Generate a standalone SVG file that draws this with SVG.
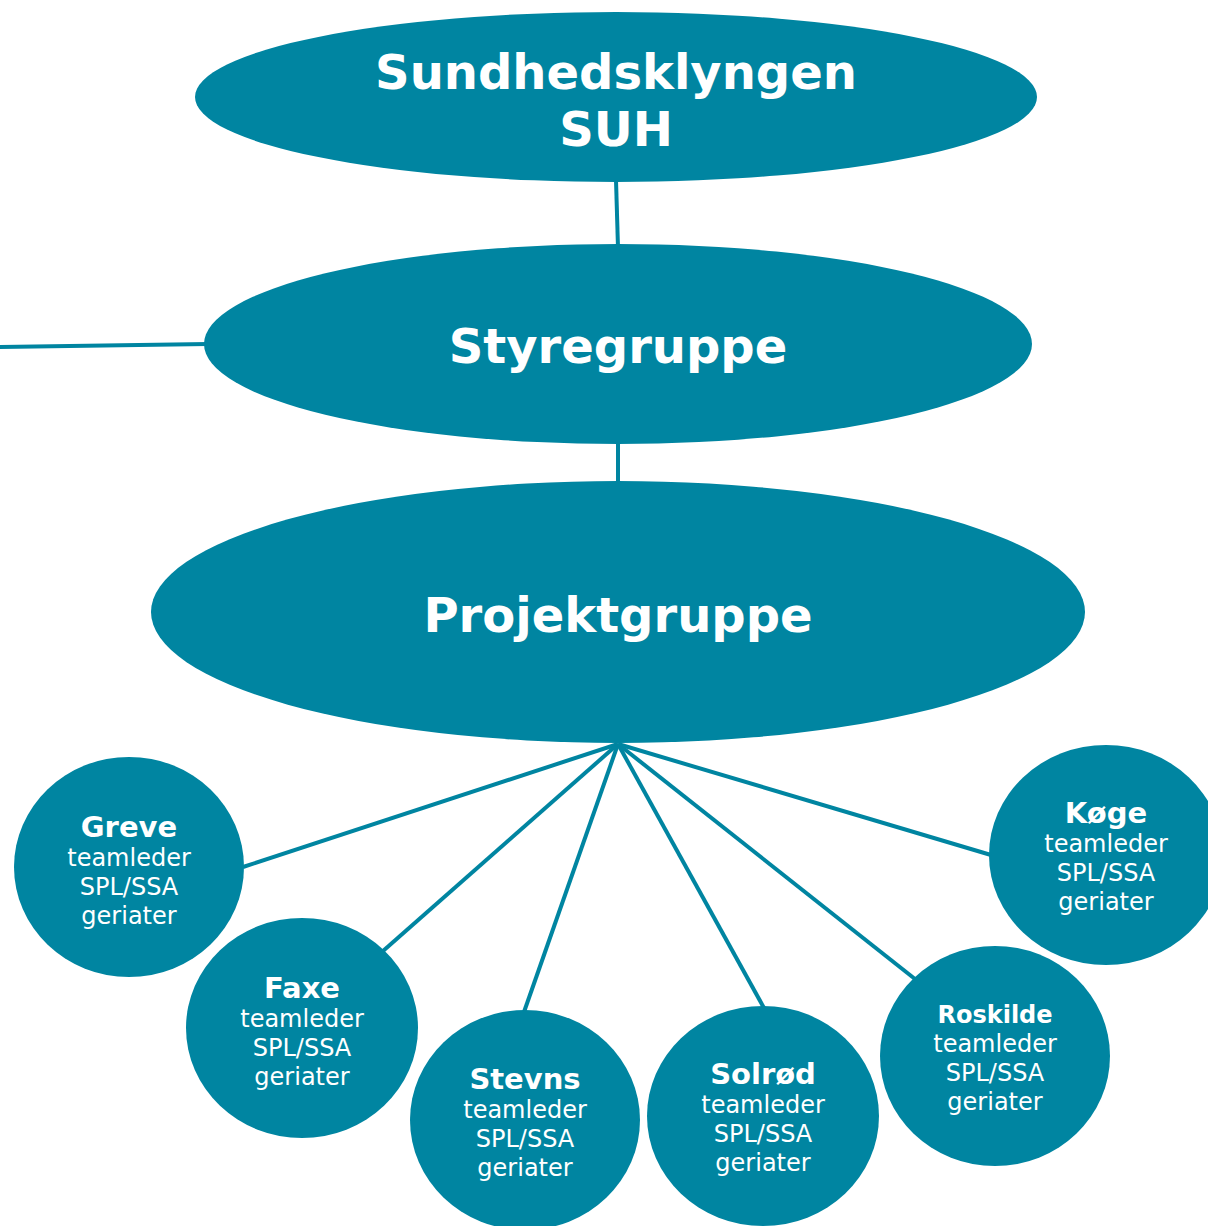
<svg xmlns="http://www.w3.org/2000/svg" width="1208" height="1226" viewBox="0 0 1208 1226">
<style>
.n{fill:#0085A1}
.c{stroke:#0085A1;stroke-width:4;fill:none}
text{fill:#fff;font-family:"DejaVu Sans",Verdana,sans-serif;text-anchor:middle}
.big{font-size:48px;font-weight:bold}
.b{font-size:29px;font-weight:bold}
.b2{font-size:24px;font-weight:bold}
.r{font-size:24px}
</style>
<rect width="1208" height="1226" fill="#fff"/>
<g id="connectors">
<line class="c" x1="616" y1="180" x2="618" y2="248"/>
<line class="c" x1="618" y1="440" x2="618" y2="485"/>
<line class="c" x1="0" y1="347" x2="208" y2="344"/>
<line class="c" x1="618" y1="744" x2="243" y2="867"/>
<line class="c" x1="618" y1="744" x2="383" y2="951"/>
<line class="c" x1="618" y1="744" x2="524" y2="1012"/>
<line class="c" x1="618" y1="744" x2="764" y2="1008"/>
<line class="c" x1="618" y1="744" x2="915" y2="979"/>
<line class="c" x1="618" y1="744" x2="991" y2="855"/>
</g>
<g id="sundhedsklyngen">
<ellipse class="n" cx="616" cy="97" rx="421" ry="85"/>
<text class="big" x="616" y="89">Sundhedsklyngen</text>
<text class="big" x="616" y="146">SUH</text>
</g>
<g id="styregruppe">
<ellipse class="n" cx="618" cy="344" rx="414" ry="100"/>
<text class="big" x="618" y="363">Styregruppe</text>
</g>
<g id="projektgruppe">
<ellipse class="n" cx="618" cy="612" rx="467" ry="131"/>
<text class="big" x="618" y="632">Projektgruppe</text>
</g>
<g id="greve">
<ellipse class="n" cx="129" cy="867" rx="115" ry="110"/>
<text class="b" x="129" y="837">Greve</text>
<text class="r" x="129" y="866">teamleder</text>
<text class="r" x="129" y="895">SPL/SSA</text>
<text class="r" x="129" y="924">geriater</text>
</g>
<g id="faxe">
<ellipse class="n" cx="302" cy="1028" rx="116" ry="110"/>
<text class="b" x="302" y="998">Faxe</text>
<text class="r" x="302" y="1027">teamleder</text>
<text class="r" x="302" y="1056">SPL/SSA</text>
<text class="r" x="302" y="1085">geriater</text>
</g>
<g id="stevns">
<ellipse class="n" cx="525" cy="1120" rx="115" ry="110"/>
<text class="b" x="525" y="1089">Stevns</text>
<text class="r" x="525" y="1118">teamleder</text>
<text class="r" x="525" y="1147">SPL/SSA</text>
<text class="r" x="525" y="1176">geriater</text>
</g>
<g id="solroed">
<ellipse class="n" cx="763" cy="1116" rx="116" ry="110"/>
<text class="b" x="763" y="1084">Solrød</text>
<text class="r" x="763" y="1113">teamleder</text>
<text class="r" x="763" y="1142">SPL/SSA</text>
<text class="r" x="763" y="1171">geriater</text>
</g>
<g id="roskilde">
<ellipse class="n" cx="995" cy="1056" rx="115" ry="110"/>
<text class="b2" x="995" y="1023">Roskilde</text>
<text class="r" x="995" y="1052">teamleder</text>
<text class="r" x="995" y="1081">SPL/SSA</text>
<text class="r" x="995" y="1110">geriater</text>
</g>
<g id="koege">
<ellipse class="n" cx="1106" cy="855" rx="117" ry="110"/>
<text class="b" x="1106" y="823">Køge</text>
<text class="r" x="1106" y="852">teamleder</text>
<text class="r" x="1106" y="881">SPL/SSA</text>
<text class="r" x="1106" y="910">geriater</text>
</g>
</svg>
